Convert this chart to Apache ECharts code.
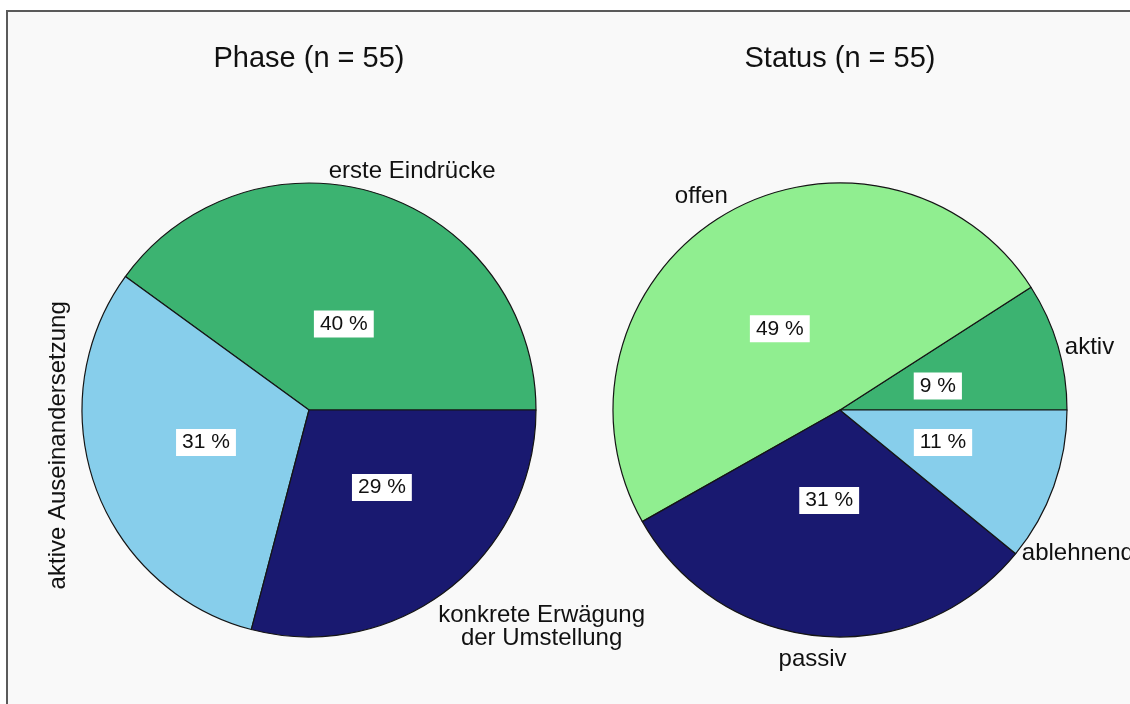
<!DOCTYPE html>
<html><head><meta charset="utf-8">
<script src="https://cdn.jsdelivr.net/npm/echarts@6/dist/echarts.min.js"></script>
<style>html,body{margin:0;padding:0;background:#fff}#c{width:1130px;height:704px}</style>
</head><body><div id="c"></div>
<script>
// ---- data ----
const titles = ['Phase (n = 55)', 'Status (n = 55)'];
const phaseCategories = ['erste Eindrücke', 'aktive Auseinandersetzung', 'konkrete Erwägung\nder Umstellung'];
const phaseCounts = [22, 17, 16];
const statusCategories = ['aktiv', 'offen', 'passiv', 'ablehnend'];
const statusCounts = [5, 27, 17, 6];

// ---- style ----
const phaseColors = ['#3CB371', '#87CEEB', '#191970'];
const statusColors = ['#3CB371', '#90EE90', '#191970', '#87CEEB'];
const FONT = '"Liberation Sans", Arial, Helvetica, sans-serif';
const centers = [[309, 410], [840, 410]];
const R = 227;
// name-label fine placement (offsets from pie edge point; rotated label offsets are in its own frame)
const phaseLabelAdj = [
  {dx: 33, dy: -23, align: 'center'},
  {dx: 41, dy: -37, align: 'center', rotate: 90},
  {dx: 94, dy: 37, align: 'center'}
];
const statusLabelAdj = [
  {dx: 7, dy: 1, align: 'left'},
  {dx: 5, dy: -19, align: 'right'},
  {dx: -8, dy: 23, align: 'center'},
  {dx: -32, dy: 67, align: 'left'}
];
// percent-label fine placement
const phasePctAdj = [{dx: 3, dy: 12}, {dx: -6, dy: -2}, {dx: 10, dy: -4}];
const statusPctAdj = [{dx: -1, dy: 5}, {dx: -7, dy: 7}, {dx: -2, dy: -12}, {dx: 6, dy: -2}];

function mainSeries(cats, vals, colors, center, adj) {
  return {
    type: 'pie', center: center, radius: R,
    startAngle: 0, clockwise: false, avoidLabelOverlap: false,
    silent: true, animation: false,
    itemStyle: {borderColor: '#151515', borderWidth: 1.2},
    label: {
      show: true, position: 'outside', color: '#111', fontFamily: FONT, fontSize: 24,
      lineHeight: 23, distanceToLabelLine: 0, formatter: '{b}'
    },
    labelLine: {show: false, length: 0, length2: 0},
    labelLayout: function (p) {
      const a = adj[p.dataIndex];
      return {dx: a.dx, dy: a.dy, align: a.align, verticalAlign: 'middle'};
    },
    data: cats.map((c, i) => ({
      name: c, value: vals[i], itemStyle: {color: colors[i]},
      label: adj[i].rotate ? {rotate: adj[i].rotate, align: 'center'} : {}
    }))
  };
}
function pctSeries(cats, vals, center, adj) {
  return {
    type: 'pie', center: center, radius: 200,
    startAngle: 0, clockwise: false, avoidLabelOverlap: false,
    silent: true, animation: false, z: 5,
    itemStyle: {color: 'transparent', borderWidth: 0},
    label: {
      show: true, position: 'inside', color: '#111', fontFamily: FONT, fontSize: 21,
      backgroundColor: '#fff', padding: [2, 6, 1, 6], lineHeight: 24,
      formatter: p => Math.round(p.percent) + ' %'
    },
    labelLine: {show: false},
    labelLayout: function (p) {
      const a = adj[p.dataIndex];
      return {dx: a.dx, dy: a.dy};
    },
    data: cats.map((c, i) => ({name: c, value: vals[i]}))
  };
}

const chart = echarts.init(document.getElementById('c'), null, {renderer: 'canvas'});
chart.setOption({
  backgroundColor: '#fff',
  animation: false,
  graphic: [{
    type: 'rect', z: -10, silent: true,
    shape: {x: 7, y: 11, width: 1200, height: 800},
    style: {fill: '#f9f9f9', stroke: '#5a5a5a', lineWidth: 2}
  }],
  title: titles.map((t, i) => ({
    text: t, left: centers[i][0], top: 44, textAlign: 'center', padding: 0,
    textStyle: {fontFamily: FONT, fontSize: 29, fontWeight: 'normal', color: '#111'}
  })),
  series: [
    mainSeries(phaseCategories, phaseCounts, phaseColors, centers[0], phaseLabelAdj),
    pctSeries(phaseCategories, phaseCounts, centers[0], phasePctAdj),
    mainSeries(statusCategories, statusCounts, statusColors, centers[1], statusLabelAdj),
    pctSeries(statusCategories, statusCounts, centers[1], statusPctAdj)
  ]
});
</script></body></html>
